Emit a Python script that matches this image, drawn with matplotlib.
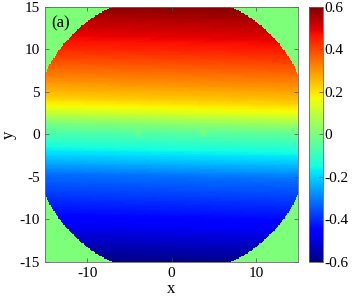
import numpy as np
import matplotlib
matplotlib.use("Agg")
import matplotlib.pyplot as plt

plt.rcParams["font.family"] = ["Liberation Serif", "DejaVu Serif"]
plt.rcParams["axes.unicode_minus"] = False

# field profile (value vs y)
prof_y = [-15, -10, -5, -1.8, 0, 1, 2.7, 4, 6, 10, 15]
prof_v = [-0.59, -0.45, -0.32, -0.15, -0.06, 0.0, 0.15, 0.23, 0.31, 0.45, 0.59]
tilt = 0.023          # bands drop slightly from left to right
radius = 16.6         # disk outside which the field is 0
spot_x = [-4.0, 3.8]  # two small defects near y = 0
spot_y = [0.2, 0.2]
spot_amp = 0.05

x_ticks = [-10, 0, 10]
y_ticks = [-15, -10, -5, 0, 5, 10, 15]
cb_ticks = [-0.6, -0.4, -0.2, 0, 0.2, 0.4, 0.6]
cb_labels = ["-0.6", "-0.4", "-0.2", "0", "0.2", "0.4", "0.6"]

n = 200
xs = np.linspace(-15, 15, n)
ys = np.linspace(-15, 15, n)
X, Y = np.meshgrid(xs, ys)
F = np.interp(Y + tilt * X, prof_y, prof_v)
for sx, sy in zip(spot_x, spot_y):
    F += spot_amp * np.exp(-((X - sx) ** 2 + (Y - sy) ** 2) / 0.15)
F[X ** 2 + Y ** 2 > radius ** 2] = 0.0

fig = plt.figure(figsize=(3.57, 3.0), dpi=100)
ax = fig.add_axes([0.126, 0.127, 0.709, 0.85])
cax = fig.add_axes([0.866, 0.127, 0.039, 0.85])

im = ax.pcolormesh(xs, ys, F, cmap="jet", vmin=-0.6, vmax=0.6, shading="nearest")
ax.set_xlim(-15, 15)
ax.set_ylim(-15, 15)
ax.set_xticks(x_ticks)
ax.set_yticks(y_ticks)
ax.tick_params(direction="in", labelsize=11, length=3, width=0.5, colors="0.3",
               labelcolor="black", top=True, right=True)
ax.set_xlabel("x", fontsize=12, labelpad=1)
ax.set_ylabel("y", fontsize=12, labelpad=2)
ax.text(-14.2, 12.6, "(a)", fontsize=12)
for s in ax.spines.values():
    s.set_color("0.4")
    s.set_linewidth(0.6)

cb = fig.colorbar(im, cax=cax, ticks=cb_ticks)
cb.ax.set_yticklabels(cb_labels)
cb.ax.tick_params(direction="in", labelsize=11, length=3, width=0.5, colors="0.3",
                  labelcolor="black", pad=1)
cb.outline.set_edgecolor("0.4")
cb.outline.set_linewidth(0.6)

fig.savefig("out.png", dpi=100)
